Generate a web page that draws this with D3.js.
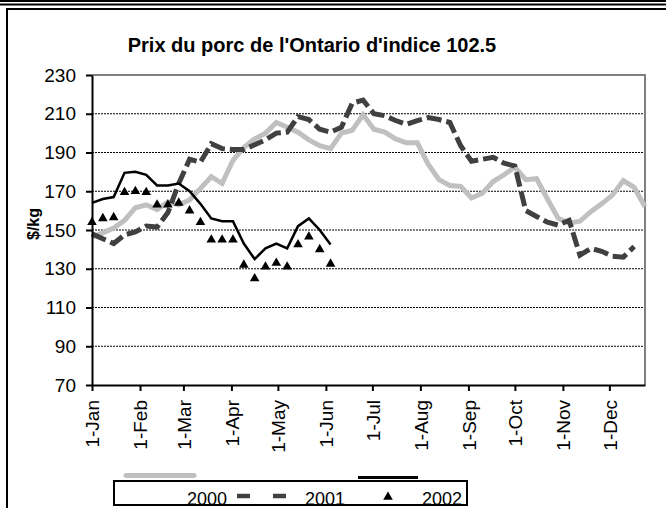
<!DOCTYPE html>
<html lang="fr">
<head>
<meta charset="UTF-8">
<script src="https://cdn.jsdelivr.net/npm/d3@7"></script>
<title>Prix du porc de l'Ontario</title>
<style>
  body { margin: 0; background: #fff; }
  svg { display: block; font-family: Arial, "Liberation Sans", sans-serif; }
</style>
</head>
<body>
<div id="chart"></div>
<script>
// ticks
const monthLabels = ['1-Jan', '1-Feb', '1-Mar', '1-Apr', '1-May', '1-Jun', '1-Jul', '1-Aug', '1-Sep', '1-Oct', '1-Nov', '1-Dec'];
const monthStarts = [0, 31, 59, 90, 120, 151, 181, 212, 243, 273, 304, 334];
const yTicks = [70, 90, 110, 130, 150, 170, 190, 210, 230];

// weekly prices, $/kg (one value per week from 1-Jan)
const weekDays = d3.range(52).map(i => i * 7);
const prix2000 = [146.5, 148.5, 151, 155, 161.5, 163, 160.5, 164.5, 163, 165.5,
  171.5, 177.5, 174, 186, 192.5, 197, 200, 205.5, 203, 200.5,
  196.5, 193.5, 192, 200, 201.5, 209.5, 202, 200.5, 197, 195,
  195, 184, 176, 173, 172.5, 166.5, 169, 175, 178.5, 182.5,
  176, 176.5, 166, 156, 153.5, 154.5, 159.5, 163.5, 168, 175.5,
  172, 162];
const prix2001 = [148, 145.5, 143, 147.5, 149, 152, 151.5, 159, 174, 186.5,
  185, 194.5, 192, 191.5, 191.5, 194, 196.5, 200, 200.5, 208.5,
  207, 202, 200.5, 203, 215.5, 217, 210, 209, 206.5, 204.5,
  206.5, 208, 207, 205.5, 193.5, 185.5, 186.5, 187.5, 184.5, 183,
  160, 157, 154, 152.5, 155, 137, 140.5, 139, 136.5, 136,
  141.5];
const prix2002 = [154, 156, 156.5, 169.5, 170, 169.5, 163, 163, 164, 160,
  154, 145, 145, 145, 132, 125, 131, 133, 131, 142.5,
  146.5, 140, 132.5];
const ligne2002 = [164, 166, 167, 179.5, 180, 178.5, 173, 173, 174, 170,
  163.5, 156, 154.5, 154.5, 143, 135, 140.5, 143, 140.5, 152,
  156, 150, 142.5];

const width = 666, height = 508;
const plot = { left: 92, right: 645, top: 75, bottom: 385 };

const svg = d3.select('#chart').append('svg')
  .attr('width', width)
  .attr('height', height);

// frame lines
svg.append('rect').attr('x', 0).attr('y', 0).attr('width', width).attr('height', height).attr('fill', '#fff');
svg.append('line').attr('x1', 0).attr('x2', width).attr('y1', 1).attr('y2', 1).attr('stroke', '#000').attr('stroke-width', 2);
svg.append('line').attr('x1', 0).attr('x2', width).attr('y1', 4.5).attr('y2', 4.5).attr('stroke', '#000').attr('stroke-width', 2);
svg.append('path').attr('d', `M${width},9H7V${height}`).attr('fill', 'none').attr('stroke', '#000').attr('stroke-width', 2);

const x = d3.scaleLinear().domain([0, 357]).range([plot.left, plot.right]);
const y = d3.scaleLinear().domain([70, 230]).range([plot.bottom, plot.top]);

// grid
svg.append('g').selectAll('line')
  .data(yTicks.filter(d => d > 70 && d < 230))
  .join('line')
  .attr('x1', plot.left).attr('x2', plot.right)
  .attr('y1', d => y(d)).attr('y2', d => y(d))
  .attr('stroke', '#000').attr('stroke-width', 1).attr('stroke-dasharray', '2,1');

// plot border (grey top/right)
svg.append('path')
  .attr('d', `M${plot.left},${plot.top}H${plot.right}V${plot.bottom}`)
  .attr('fill', 'none').attr('stroke', '#808080').attr('stroke-width', 2);

// title
svg.append('text')
  .attr('x', 312).attr('y', 52)
  .attr('text-anchor', 'middle')
  .style('font-size', '20px').style('font-weight', 'bold')
  .text("Prix du porc de l'Ontario d'indice 102.5");

// y label
svg.append('text')
  .attr('transform', 'translate(39,224) rotate(-90)')
  .attr('text-anchor', 'middle')
  .style('font-size', '16px').style('font-weight', 'bold')
  .text('$/kg');

// series
const line = d3.line().x((d, i) => x(weekDays[i])).y(d => y(d));

svg.append('path').datum(prix2000)
  .attr('d', line).attr('fill', 'none')
  .attr('stroke', '#c0c0c0').attr('stroke-width', 5);

svg.append('path').datum(prix2001)
  .attr('d', line).attr('fill', 'none')
  .attr('stroke', '#404040').attr('stroke-width', 5)
  .attr('stroke-dasharray', '15,5');

svg.append('path').datum(ligne2002)
  .attr('d', line).attr('fill', 'none')
  .attr('stroke', '#000').attr('stroke-width', 2.5);

const tri = d3.symbol().type(d3.symbolTriangle).size(40);
svg.append('g').selectAll('path')
  .data(prix2002)
  .join('path')
  .attr('d', tri)
  .attr('transform', (d, i) => `translate(${x(weekDays[i])},${y(d)})`)
  .attr('fill', '#000');

// axes
const yAxis = svg.append('g')
  .attr('transform', `translate(${plot.left},0)`)
  .call(d3.axisLeft(y).tickValues(yTicks).tickSize(6).tickSizeOuter(0).tickPadding(10));
yAxis.select('.domain').attr('stroke', '#000').attr('stroke-width', 2);
yAxis.selectAll('line').attr('stroke', '#000').attr('stroke-width', 2);
yAxis.selectAll('text').style('font-size', '19px').attr('fill', '#000');

const xAxis = svg.append('g')
  .attr('transform', `translate(0,${plot.bottom})`)
  .call(d3.axisBottom(x).tickValues(monthStarts).tickFormat((d, i) => monthLabels[i]).tickSize(6).tickSizeOuter(0));
xAxis.select('.domain').attr('stroke', '#000').attr('stroke-width', 2);
xAxis.selectAll('line').attr('stroke', '#000').attr('stroke-width', 2);
xAxis.selectAll('text')
  .attr('y', 0).attr('x', -15).attr('dy', '0.36em')
  .attr('transform', 'rotate(-90)')
  .style('text-anchor', 'end')
  .style('font-size', '19px').attr('fill', '#000');

// legend
svg.append('line').attr('x1', 126).attr('x2', 194).attr('y1', 475.5).attr('y2', 475.5)
  .attr('stroke', '#c0c0c0').attr('stroke-width', 5).attr('stroke-linecap', 'round');
svg.append('line').attr('x1', 358).attr('x2', 418).attr('y1', 477.5).attr('y2', 477.5)
  .attr('stroke', '#000').attr('stroke-width', 3);

svg.append('clipPath').attr('id', 'legclip')
  .append('rect').attr('x', 114).attr('y', 481).attr('width', 353).attr('height', 23);
const leg = svg.append('g').attr('clip-path', 'url(#legclip)');
const legItems = [['2000', 187], ['2001', 305], ['2002', 422]];
leg.selectAll('text').data(legItems).join('text')
  .attr('x', d => d[1]).attr('y', 505)
  .style('font-size', '18px')
  .text(d => d[0]);
leg.append('line').attr('x1', 237).attr('x2', 286).attr('y1', 496).attr('y2', 496)
  .attr('stroke', '#404040').attr('stroke-width', 4.5).attr('stroke-dasharray', '13,23');
leg.append('path').attr('d', tri).attr('transform', 'translate(388,497)').attr('fill', '#000');

svg.append('rect').attr('x', 114).attr('y', 481).attr('width', 353).attr('height', 24)
  .attr('fill', 'none').attr('stroke', '#000').attr('stroke-width', 2);
</script>
</body>
</html>
